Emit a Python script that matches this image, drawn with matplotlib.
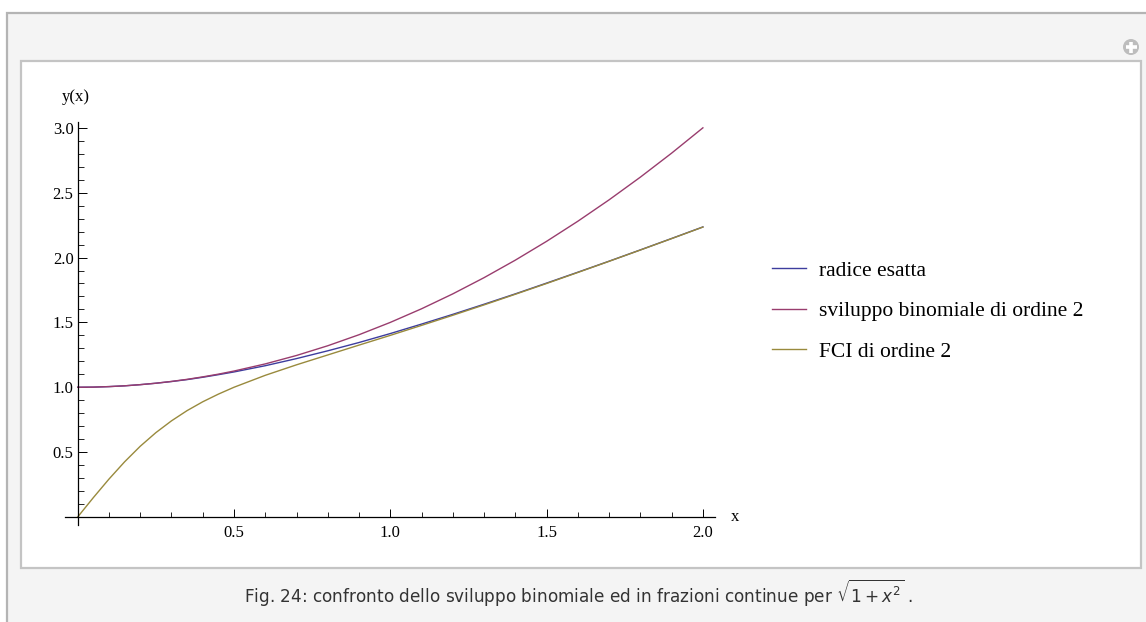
import matplotlib
matplotlib.use('Agg')
import matplotlib.pyplot as plt
import matplotlib.patches as mpatches
from matplotlib.lines import Line2D
from matplotlib.ticker import FixedLocator

# ── data ───────────────────────────────────────────────────────
x_vals = [0.0, 0.05, 0.1, 0.15, 0.2, 0.25, 0.3, 0.35, 0.4, 0.45, 0.5,
          0.6, 0.7, 0.8, 0.9, 1.0, 1.1, 1.2, 1.3, 1.4, 1.5,
          1.6, 1.7, 1.8, 1.9, 2.0]
radice = [1.000, 1.001, 1.005, 1.011, 1.020, 1.031, 1.044, 1.059, 1.077, 1.097, 1.118,
          1.166, 1.221, 1.281, 1.345, 1.414, 1.487, 1.562, 1.640, 1.720, 1.803,
          1.887, 1.972, 2.059, 2.147, 2.236]
binomiale = [1.000, 1.001, 1.005, 1.011, 1.020, 1.031, 1.045, 1.061, 1.080, 1.101, 1.125,
             1.180, 1.245, 1.320, 1.405, 1.500, 1.605, 1.720, 1.845, 1.980, 2.125,
             2.280, 2.445, 2.620, 2.805, 3.000]
fci = [0.000, 0.149, 0.292, 0.425, 0.545, 0.650, 0.741, 0.820, 0.888, 0.947, 1.000,
       1.092, 1.173, 1.249, 1.325, 1.400, 1.477, 1.555, 1.635, 1.717, 1.800,
       1.885, 1.971, 2.058, 2.146, 2.235]

series_labels = ['radice esatta', 'sviluppo binomiale di ordine 2', 'FCI di ordine 2']
series_colors = ['#3d3d9e', '#993d6e', '#998a3d']

x_major = [0.5, 1.0, 1.5, 2.0]
x_minor = [0.1, 0.2, 0.3, 0.4, 0.6, 0.7, 0.8, 0.9, 1.1, 1.2, 1.3, 1.4,
           1.6, 1.7, 1.8, 1.9]
y_major = [0.5, 1.0, 1.5, 2.0, 2.5, 3.0]
y_minor = [0.1, 0.2, 0.3, 0.4, 0.6, 0.7, 0.8, 0.9, 1.1, 1.2, 1.3, 1.4,
           1.6, 1.7, 1.8, 1.9, 2.1, 2.2, 2.3, 2.4, 2.6, 2.7, 2.8, 2.9]

W, H = 1146, 622
fig = plt.figure(figsize=(W / 100, H / 100), dpi=100, facecolor='white')

def px(x0, y0, w, h):
    # pixel box (top-left origin) -> figure fraction
    return (x0 / W, 1 - (y0 + h) / H, w / W, h / H)

# ── page frame ───────────────────────────────────────────────
bg = fig.add_axes((0, 0, 1, 1), zorder=-10)
bg.set_xlim(0, W)
bg.set_ylim(H, 0)
bg.axis('off')
bg.add_patch(mpatches.Rectangle((7, 13), W, H, facecolor='#f4f4f4',
                                edgecolor='#b4b4b4', lw=1.6))
bg.add_patch(mpatches.Rectangle((20.5, 60.5), 1120, 507, facecolor='white',
                                edgecolor='#c4c4c4', lw=1.6))
bg.add_patch(mpatches.Circle((1131, 47), 8, facecolor='#bdbdbd', edgecolor='none'))
bg.plot([1125.5, 1136.5], [47, 47], color='white', lw=2.6, solid_capstyle='butt')
bg.plot([1131, 1131], [41.5, 52.5], color='white', lw=2.6, solid_capstyle='butt')

fig.text(244 / W, 1 - 593 / H,
         r'Fig. 24: confronto dello sviluppo binomiale ed in frazioni continue per $\sqrt{1+x^2}$ .',
         ha='left', va='center', fontsize=12.2, color='#333333', family='DejaVu Sans')

# ── plot ─────────────────────────────────────────────────────
serif = 'Liberation Serif'
ax = fig.add_axes(px(65.2, 122, 650.2, 403))
ax.set_facecolor('none')
ax.set_xlim(-0.04, 2.04)
ax.set_ylim(-0.062, 3.045)

for ys, lab, col in zip([radice, binomiale, fci], series_labels, series_colors):
    ax.plot(x_vals, ys, color=col, lw=1.0, label=lab)

for s in ['top', 'right']:
    ax.spines[s].set_visible(False)
ax.spines['left'].set_position(('data', 0))
ax.spines['bottom'].set_position(('data', 0))
for s in ['left', 'bottom']:
    ax.spines[s].set_linewidth(0.9)

ax.xaxis.set_major_locator(FixedLocator(x_major))
ax.xaxis.set_minor_locator(FixedLocator(x_minor))
ax.yaxis.set_major_locator(FixedLocator(y_major))
ax.yaxis.set_minor_locator(FixedLocator(y_minor))
ax.set_xticklabels([f'{v:.1f}' for v in x_major], family=serif, fontsize=12)
ax.set_yticklabels([f'{v:.1f}' for v in y_major], family=serif, fontsize=12)
ax.tick_params(axis='x', which='major', direction='in', length=6, width=0.7, pad=6)
ax.tick_params(axis='x', which='minor', direction='in', length=3.6, width=0.6)
ax.tick_params(axis='y', which='major', direction='in', length=6.2, width=0.7, pad=3)
ax.tick_params(axis='y', which='minor', direction='in', length=4, width=0.6)

fig.text(76 / W, 1 - 97 / H, 'y(x)', ha='center', va='center', family=serif, fontsize=12)
fig.text(735 / W, 1 - 517 / H, 'x', ha='center', va='center', family=serif, fontsize=12)

handles = [Line2D([0], [0], color=c, lw=1.0) for c in series_colors]
fig.legend(handles, series_labels, loc='center left',
           bbox_to_anchor=(772 / W, 1 - 311 / H), frameon=False,
           borderpad=0, borderaxespad=0,
           prop={'family': serif, 'size': 15.5}, handlelength=1.6,
           handletextpad=0.6, labelspacing=0.95)

fig.savefig('out.png', dpi=100, facecolor='white')
